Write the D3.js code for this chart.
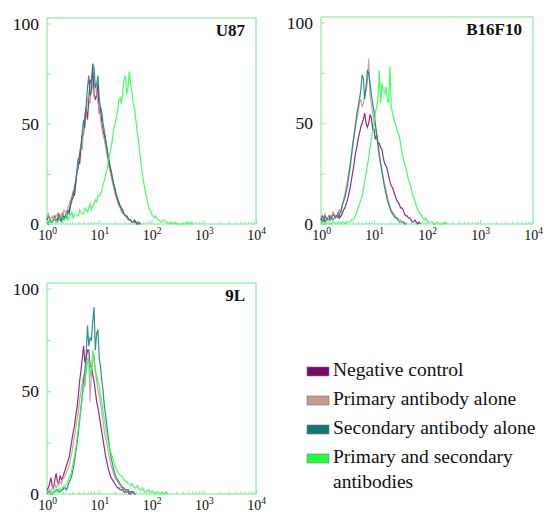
<!DOCTYPE html>
<html>
<head>
<meta charset="utf-8">
<script src="https://cdn.jsdelivr.net/npm/d3@7"></script>
<style>
  body { margin: 0; background: #fff; }
</style>
</head>
<body>
<div id="container"><svg></svg></div>
<script>
let width = 546
let height = 514
let fontFamily = "'Liberation Serif', 'Times New Roman', Times, 'DejaVu Serif', serif"

// histogram channels: value i sits at log10(intensity) = i * step
let step = 0.025

let series_names = ['Negative control', 'Primary antibody alone', 'Secondary antibody alone', 'Primary and secondary antibodies']
let series_colors = ['#7a0a70', '#c4968c', '#0f7d78', '#28ff48']
let swatch_colors = ['#780a6e', '#c8998f', '#0e7a76', '#22ff3a']

// U87
let u87_neg = [2,4,3,1,1,3,4,2,2,5,3,2,5,3,4,6,7,6,10,13,16,14,20,27,33,30,38,44,45,54,58,52,62,72,70,78,66,62,64,70,55,58,50,46,44,40,36,33,30,25,22,20,17,14,12,10,9,7,6,5,4,4,3,2,2,1,1,2,1,0,1,0,0]
let u87_pri = [3,5,2,3,4,2,2,4,5,3,3,5,4,7,6,5,8,10,12,11,15,19,22,26,30,36,40,37,48,52,55,62,65,60,72,68,63,70,67,60,58,52,48,44,42,38,34,30,27,24,21,18,15,13,11,9,8,6,5,5,4,3,2,2,2,1,1,1,0,1,0]
let u87_sec = [1,0,2,1,1,2,2,1,1,3,2,1,3,2,4,3,6,5,9,12,13,17,21,26,28,35,38,46,52,48,60,68,74,64,66,80,78,68,70,74,62,58,55,50,46,42,38,33,29,27,24,20,18,15,13,11,9,8,7,5,4,4,3,2,2,1,1,1,1,0,0]
let u87_both = [1,0,2,1,1,3,2,1,1,2,3,4,2,3,3,5,2,4,4,6,3,5,5,4,4,7,6,5,5,8,7,6,8,10,7,9,10,12,11,14,14,15,17,20,22,25,27,31,35,38,42,47,50,53,56,62,63,60,66,72,74,65,68,76,70,66,60,58,52,46,42,36,30,25,21,17,14,11,8,7,5,4,3,4,3,2,2,1,1,2,2,1,1,0,0,1,0,0,1,0,0,0,0,0,0,0,0,1,0,0,1,0,0]

// B16F10
let b16_neg = [2,4,3,1,2,3,4,2,3,5,4,3,4,6,3,4,5,7,8,10,12,15,18,22,26,30,35,38,42,45,48,50,52,55,50,48,50,54,53,47,47,42,44,40,40,38,37,33,30,29,27,24,21,19,18,16,14,12,11,10,8,8,7,5,4,4,3,3,2,1,1,2,1,0,1,0]
let b16_pri = [4,2,3,5,2,3,4,2,3,6,5,3,4,5,7,6,10,12,15,18,22,26,30,34,38,45,50,52,55,60,62,58,60,65,66,70,82,64,60,55,52,48,44,38,33,30,27,23,20,17,14,11,9,7,6,5,4,3,3,2,2,1,1,1,0,0]
let b16_sec = [3,1,2,4,3,2,2,4,3,2,3,4,4,3,5,6,9,11,13,16,19,24,28,34,40,44,48,55,58,62,66,74,72,62,68,76,75,70,64,60,56,50,45,40,35,30,26,22,18,15,12,10,8,6,5,4,3,3,2,1,1,1,1,0,0]
let b16_both = [0,1,1,0,0,1,1,0,0,1,1,0,0,1,1,0,1,1,0,1,1,1,1,2,2,3,4,6,8,10,12,14,17,21,25,29,33,38,42,46,50,55,58,62,76,60,70,66,65,68,62,60,78,58,55,52,50,48,45,44,40,36,33,30,28,25,22,20,18,15,13,11,9,7,6,5,4,3,2,3,2,1,1,1,1,0,0,1,1,0,0,0,0,0,1,0]

// 9L
let l9_neg = [2,3,5,8,4,3,7,10,6,5,9,7,8,10,12,14,16,18,22,26,30,33,38,42,48,55,60,66,72,64,66,70,70,62,62,58,55,50,45,42,38,34,30,26,22,18,15,12,10,8,7,6,5,4,3,3,2,2,2,1,1,1,1,0,0,1,1,0,0]
let l9_pri = [1,2,2,1,3,4,5,3,4,6,6,5,7,8,9,11,12,14,17,20,24,28,32,36,40,46,50,54,58,52,62,66,66,45,60,64,68,60,55,50,48,44,40,35,30,27,24,20,17,14,12,10,8,7,6,5,4,3,3,2,2,2,2,1,1,1,1,0]
let l9_sec = [0,1,1,0,0,1,1,2,2,1,1,2,2,3,3,2,4,6,7,9,12,16,20,25,30,36,42,48,55,60,68,82,72,76,75,84,91,70,78,80,66,62,55,50,42,38,32,27,22,18,15,12,10,8,7,6,5,4,3,3,2,2,2,1,1,1,1,0]
let l9_both = [0,1,1,0,0,1,2,1,1,3,2,2,3,4,4,5,6,8,9,12,15,18,22,27,32,37,42,47,52,56,60,64,65,57,62,70,66,60,58,55,52,48,45,40,36,32,28,25,22,20,18,16,14,12,11,10,9,9,8,7,6,6,5,5,4,5,4,3,3,4,3,2,2,3,2,1,1,2,2,1,1,1,1,0,1,1,0,0,1,0,0,1,0]

let x_ticks = [1, 10, 100, 1000, 10000]
let y_ticks = [0, 25, 50, 75, 100]
let y_labels = [0, 50, 100]

let panels = [
    { name: 'U87', box: [47, 18, 256, 224], data: [u87_neg, u87_pri, u87_sec, u87_both] },
    { name: 'B16F10', box: [321, 17, 533, 224], data: [b16_neg, b16_pri, b16_sec, b16_both] },
    { name: '9L', box: [47, 283, 256, 494], data: [l9_neg, l9_pri, l9_sec, l9_both] }
]

let svg = d3.select('#container').select('svg')
    .attr('width', width)
    .attr('height', height)
    .attr('font-family', fontFamily)

function draw_panel(p) {
    let [left, top, right, bottom] = p.box
    let g = svg.append('g')

    let x = d3.scaleLog().domain([1, 10000]).range([left, right])
    // 100 sits a little below the top of the frame
    let y = d3.scaleLinear().domain([0, 100]).range([bottom, top + 5.5])

    // frame
    g.append('rect')
        .attr('x', left).attr('y', top)
        .attr('width', right - left).attr('height', bottom - top)
        .attr('fill', 'none')
        .attr('stroke', '#8eeaa6')
        .attr('stroke-width', 1.2)

    // minor log ticks
    let minor = []
    for (let e = 0; e < 4; e++)
        for (let k = 2; k < 10; k++) minor.push(k * Math.pow(10, e))
    g.append('g')
        .attr('transform', `translate(0, ${bottom})`)
        .call(d3.axisBottom(x).tickValues(minor).tickSize(-2.5).tickFormat(''))
        .call(a => a.select('.domain').remove())
        .selectAll('line').attr('stroke', '#8eeaa6')

    // major x ticks + labels
    let ax = g.append('g')
        .attr('transform', `translate(0, ${bottom})`)
        .call(d3.axisBottom(x).tickValues(x_ticks).tickSize(-4).tickPadding(4).tickFormat(''))
    ax.attr('font-family', fontFamily)
    ax.select('.domain').remove()
    ax.selectAll('line').attr('stroke', '#8eeaa6')
    ax.selectAll('.tick text')
        .attr('font-size', 14)
        .attr('fill', '#111')
        .attr('dy', '0.85em')
        .each(function (d) {
            let t = d3.select(this)
            t.append('tspan').text('10')
            t.append('tspan').text(Math.round(Math.log10(d)))
                .attr('font-size', 9.5)
                .attr('dy', '-0.65em')
        })

    // y axis
    let ay = g.append('g')
        .attr('transform', `translate(${left}, 0)`)
        .call(d3.axisLeft(y).tickValues(y_ticks).tickSize(-4).tickPadding(8)
            .tickFormat(d => y_labels.includes(d) ? d : ''))
    ay.attr('font-family', fontFamily)
    ay.select('.domain').remove()
    ay.selectAll('line').attr('stroke', '#8eeaa6')
    ay.selectAll('.tick text').attr('font-size', 17.5).attr('fill', '#111')

    // histograms
    let line = d3.line()
        .x((d, i) => x(Math.pow(10, i * step)))
        .y(d => y(d))
    p.data.forEach((vals, s) => {
        g.append('path')
            .datum(vals)
            .attr('d', line)
            .attr('fill', 'none')
            .attr('stroke', series_colors[s])
            .attr('stroke-width', 1.2)
            .attr('opacity', 0.85)
    })

    // title
    g.append('text')
        .attr('x', right - 11)
        .attr('y', top + 18)
        .attr('text-anchor', 'end')
        .attr('font-size', 17)
        .attr('font-weight', 'bold')
        .attr('fill', '#111')
        .text(p.name)
}

panels.forEach(draw_panel)

// legend
let legend = svg.append('g').attr('transform', 'translate(307, 367)')
let rows = [0, 29, 58, 87]
series_names.forEach((name, i) => {
    legend.append('rect')
        .attr('x', 0).attr('y', rows[i])
        .attr('width', 22).attr('height', 9)
        .attr('fill', swatch_colors[i])
        .attr('stroke', '#777')
        .attr('stroke-width', 0.6)
    let t = legend.append('text')
        .attr('x', 26)
        .attr('y', rows[i] + 9)
        .attr('font-size', 19.5)
        .attr('fill', '#111')
    if (i == 3) {
        t.append('tspan').text('Primary and secondary')
        t.append('tspan').attr('x', 26).attr('dy', 25).text('antibodies')
    } else {
        t.text(name)
    }
})
</script>
</body>
</html>
